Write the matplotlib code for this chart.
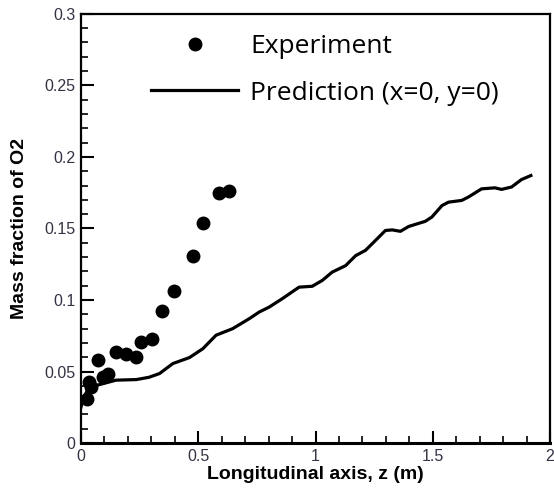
import matplotlib
matplotlib.use("Agg")
import matplotlib.pyplot as plt
from matplotlib.ticker import MultipleLocator, FormatStrFormatter

# ============================================================
# Datos
# ============================================================

# Experimento (puntos)
z_exp = [0.024, 0.035, 0.045, 0.071, 0.095, 0.116, 0.149, 0.194, 0.234,
         0.255, 0.304, 0.344, 0.396, 0.477, 0.522, 0.587, 0.633]
o2_exp = [0.031, 0.043, 0.039, 0.058, 0.046, 0.048, 0.064, 0.062, 0.060,
          0.071, 0.073, 0.092, 0.106, 0.131, 0.154, 0.175, 0.176]

# Prediccion (x=0, y=0)
z_pred = [0.0, 0.01, 0.025, 0.045, 0.07, 0.095, 0.15, 0.236, 0.29, 0.335,
          0.392, 0.463, 0.52, 0.576, 0.647, 0.718, 0.76, 0.803, 0.859, 0.93,
          0.986, 1.029, 1.071, 1.128, 1.171, 1.213, 1.256, 1.298, 1.327,
          1.362, 1.397, 1.468, 1.496, 1.539, 1.567, 1.623, 1.652, 1.708,
          1.765, 1.793, 1.836, 1.878, 1.918]
o2_pred = [0.025, 0.031, 0.036, 0.039, 0.0405, 0.0416, 0.044, 0.0444, 0.046,
           0.0486, 0.0556, 0.0598, 0.066, 0.0754, 0.080, 0.087, 0.0916,
           0.0951, 0.101, 0.109, 0.1096, 0.1137, 0.1195, 0.124, 0.131,
           0.1347, 0.1417, 0.1486, 0.149, 0.148, 0.1514, 0.155, 0.158, 0.166,
           0.1684, 0.1696, 0.172, 0.1777, 0.1784, 0.1773, 0.179, 0.1842, 0.187]

etiqueta_exp = "Experiment"
etiqueta_pred = "Prediction (x=0, y=0)"

# ============================================================
# Grafico
# ============================================================

fig = plt.figure(figsize=(5.54, 4.94), dpi=100)
ax = fig.add_axes([0.146, 0.103, 0.847, 0.869])

ax.plot(z_exp, o2_exp, "o", color="black", markersize=9, label=etiqueta_exp)
ax.plot(z_pred, o2_pred, "-", color="black", linewidth=2.3, label=etiqueta_pred)

ax.set_xlim(0, 2)
ax.set_ylim(0, 0.3)

ax.xaxis.set_major_locator(MultipleLocator(0.5))
ax.xaxis.set_minor_locator(MultipleLocator(0.1))
ax.yaxis.set_major_locator(MultipleLocator(0.05))
ax.yaxis.set_minor_locator(MultipleLocator(0.01))
ax.xaxis.set_major_formatter(FormatStrFormatter("%g"))
ax.yaxis.set_major_formatter(FormatStrFormatter("%g"))

ax.tick_params(which="both", direction="in", top=False, right=False,
               labelsize=11.5, width=1.5, colors="black")
ax.tick_params(which="major", length=9, pad=4)
ax.tick_params(which="minor", length=5, width=1.2)
for lab in ax.get_xticklabels() + ax.get_yticklabels():
    lab.set_fontfamily("Liberation Sans")
    lab.set_color("#333344")

for s in ax.spines.values():
    s.set_linewidth(1.6)
ax.spines["bottom"].set_linewidth(2.2)

ax.set_xlabel("Longitudinal axis, z (m)", fontsize=14, fontweight="bold",
              family="Liberation Sans", labelpad=2)
ax.set_ylabel("Mass fraction of O2", fontsize=14, fontweight="bold",
              family="Liberation Sans", labelpad=12)

ax.legend(loc="upper left", bbox_to_anchor=(0.11, 0.995), frameon=False,
          prop={"family": "Open Sans", "size": 19}, handlelength=3.3,
          handletextpad=0.45, labelspacing=0.8, borderaxespad=0.3)

plt.savefig("out.png", dpi=100)
